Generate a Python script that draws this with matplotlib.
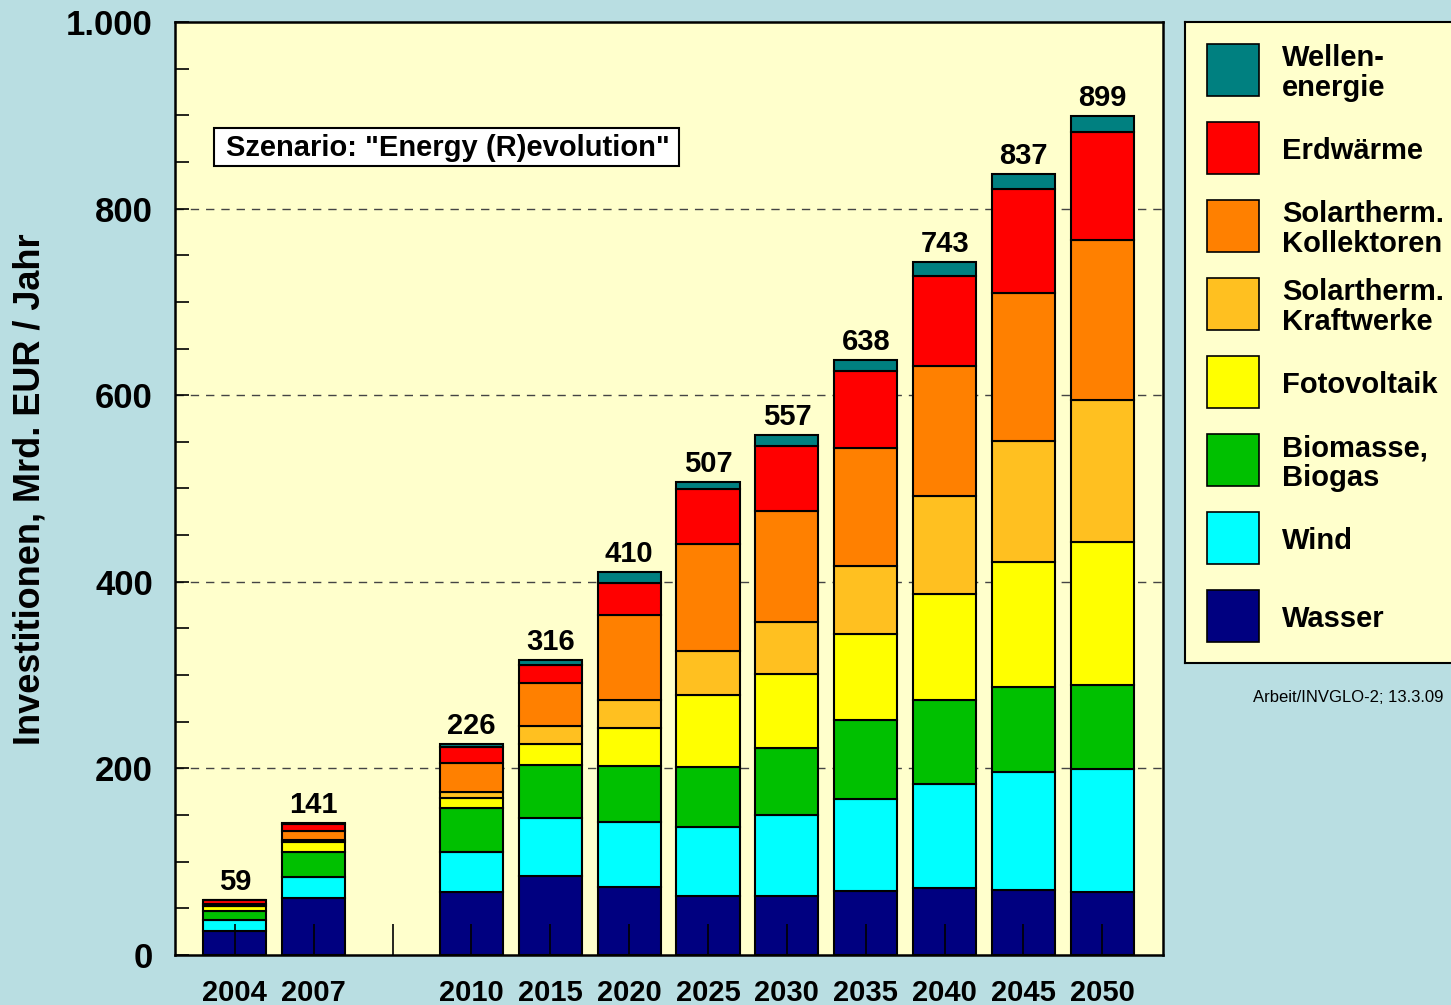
import matplotlib.pyplot as plt
import numpy as np
from matplotlib.patches import Rectangle
from matplotlib.ticker import MultipleLocator, FuncFormatter

plt.rcParams['font.family'] = ['Liberation Sans', 'DejaVu Sans']
plt.rcParams['font.weight'] = 'bold'

years = ['2004', '2007', '2010', '2015', '2020', '2025', '2030', '2035', '2040', '2045', '2050']
totals = [59, 141, 226, 316, 410, 507, 557, 638, 743, 837, 899]

wasser = [26, 61, 68, 85, 73, 63, 63, 69, 72, 70, 68]
wind = [11, 23, 42, 62, 70, 74, 87, 98, 111, 126, 131]
biomasse = [10, 26, 48, 57, 60, 64, 72, 85, 90, 91, 90]
fotovoltaik = [5, 11, 10, 22, 40, 78, 79, 92, 114, 134, 154]
solar_kraftwerke = [1, 2, 7, 19, 30, 47, 56, 73, 105, 130, 152]
solar_kollektoren = [2, 10, 31, 47, 91, 115, 119, 126, 139, 159, 171]
erdwaerme = [3.5, 7.7, 17, 19, 35, 58, 70, 83, 97, 111, 116]
wellen = [0.5, 0.3, 3, 5, 11, 8, 11, 12, 15, 16, 17]

series = [wasser, wind, biomasse, fotovoltaik, solar_kraftwerke,
          solar_kollektoren, erdwaerme, wellen]
labels = ['Wasser', 'Wind', 'Biomasse,\nBiogas', 'Fotovoltaik',
          'Solartherm.\nKraftwerke', 'Solartherm.\nKollektoren', 'Erdwärme',
          'Wellen-\nenergie']
colors = ['#000080', '#00FFFF', '#00C000', '#FFFF00', '#FFC020',
          '#FF8000', '#FF0000', '#008080']

bg = '#B9DEE2'
face = '#FFFFCC'

# gap between 2007 and 2010
pos = np.arange(len(years), dtype=float)
pos[2:] += 1

fig = plt.figure(figsize=(14.51, 10.05), dpi=100, facecolor=bg)
ax = fig.add_axes([175/1451, 50/1005, 988/1451, 933/1005])
ax.set_facecolor(face)

bottom = np.zeros(len(years))
for vals, col in zip(series, colors):
    ax.bar(pos, vals, width=0.8, bottom=bottom, color=col,
           edgecolor='black', linewidth=1.5, zorder=1)
    bottom += np.array(vals)

for x, t in zip(pos, totals):
    ax.annotate(str(t), (x, t), xytext=(0, 3), textcoords='offset points',
                ha='center', va='bottom', fontsize=21, fontweight='bold')

for v in [200, 400, 600, 800]:
    ax.axhline(v, color='#444444', lw=1, ls=(0, (6, 5)), zorder=0.5)

ax.set_xlim(-0.76, 11.77)
ax.set_ylim(0, 1000)

ticks = np.arange(12)
ax.set_xticks(ticks)
ax.set_xticklabels(years[:2] + [''] + years[2:])
ax.tick_params(axis='x', direction='in', length=22, width=1.2, pad=17,
               labelsize=21)
ax.yaxis.set_major_locator(MultipleLocator(200))
ax.yaxis.set_minor_locator(MultipleLocator(50))
ax.yaxis.set_major_formatter(FuncFormatter(lambda v, p: f'{v:,.0f}'.replace(',', '.')))
ax.tick_params(axis='y', which='both', direction='in', length=10, width=1.2,
               pad=16, labelsize=25)
for lab in ax.get_xticklabels() + ax.get_yticklabels():
    lab.set_fontweight('bold')
for s in ax.spines.values():
    s.set_linewidth(1.8)

ax.add_patch(Rectangle((39/988, 789/933), 465/988, 38/933, transform=ax.transAxes,
                       facecolor='white', edgecolor='black', lw=1.5, zorder=3))
ax.text(51/988, 807/933, 'Szenario: "Energy (R)evolution"', transform=ax.transAxes,
        ha='left', va='center', fontsize=21, fontweight='bold', zorder=4)

fig.text(30/1451, 1 - 489/1005, 'Investitionen, Mrd. EUR / Jahr', rotation=90,
         ha='center', va='center', fontsize=26, fontweight='bold')

# legend box
lg = fig.add_axes([1185/1451, 342/1005, 275/1451, 641/1005])
lg.set_facecolor(face)
lg.set_xlim(0, 275)
lg.set_ylim(641, 0)
lg.set_xticks([])
lg.set_yticks([])
for s in lg.spines.values():
    s.set_linewidth(1.5)
centers = [48, 126, 204, 282, 360, 438, 516, 594]
for yc, lab, col in zip(centers, labels[::-1], colors[::-1]):
    lg.add_patch(Rectangle((22, yc - 26), 52, 52, facecolor=col,
                           edgecolor='black', lw=1.2))
    lg.text(97, yc + 3, lab, ha='left', va='center', fontsize=21,
            fontweight='bold', linespacing=1.05)

fig.text(1253/1451, 1 - 697/1005, 'Arbeit/INVGLO-2; 13.3.09', fontsize=12,
         fontweight='normal', ha='left', va='center')

plt.savefig('out.png', dpi=100, facecolor=bg)
